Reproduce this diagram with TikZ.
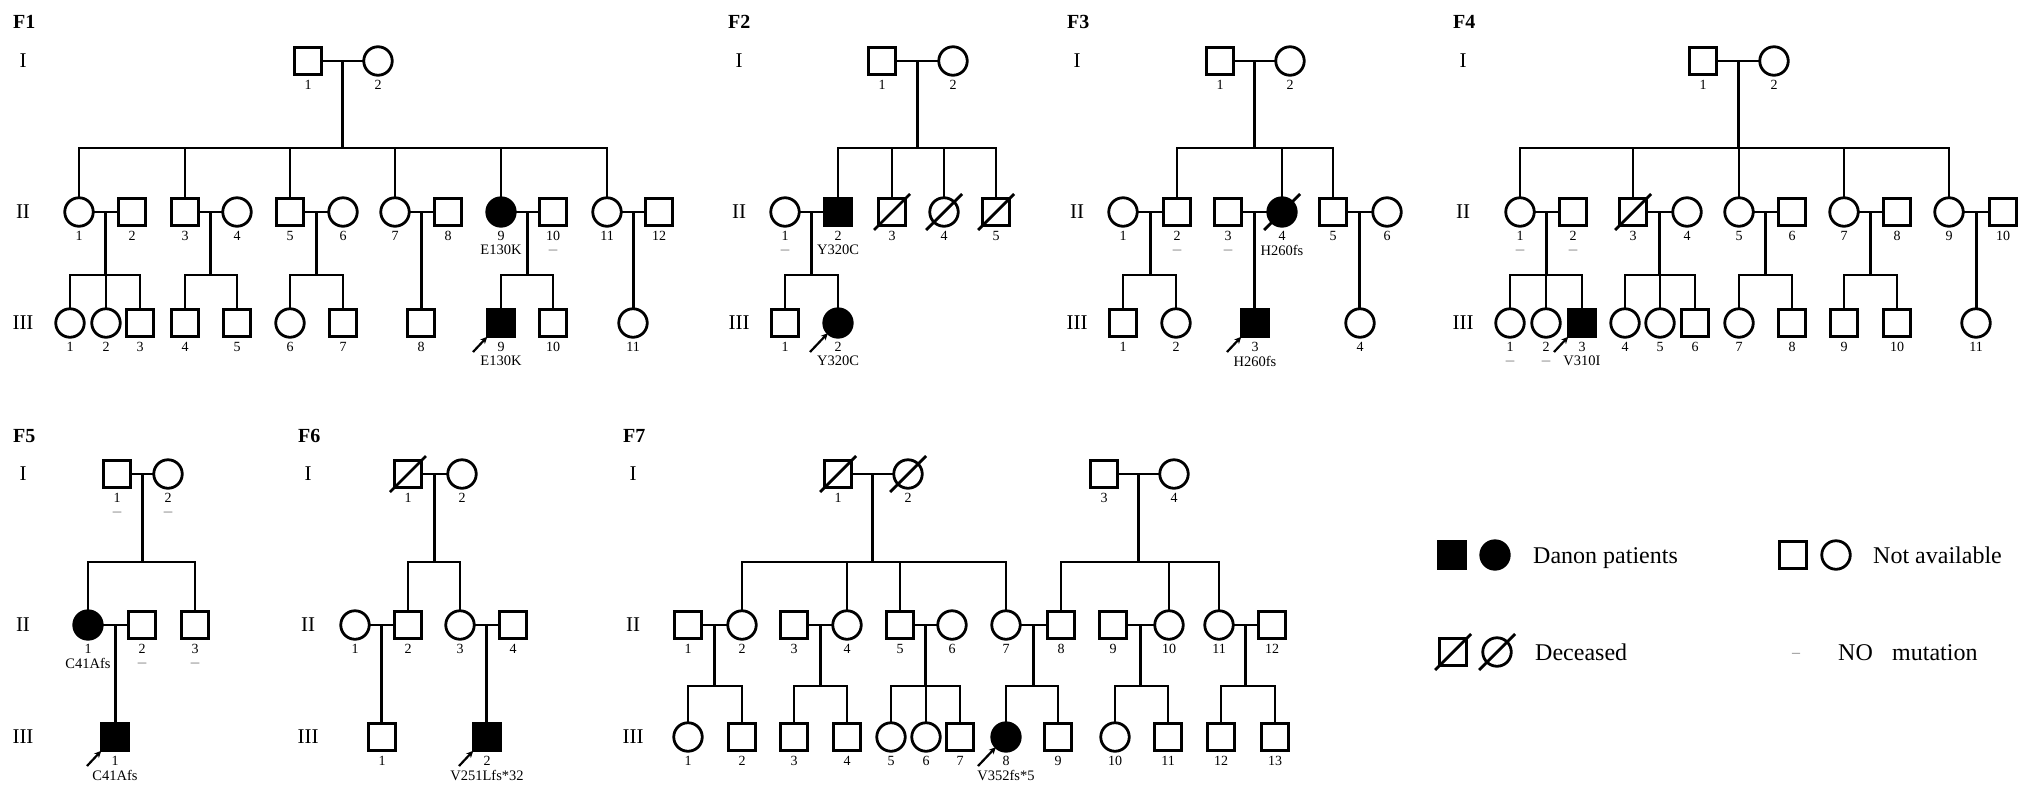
\documentclass[tikz,border=0pt]{standalone}
\usepackage{fontspec}
\setmainfont{Liberation Serif}
\usetikzlibrary{calc,arrows.meta}
\tikzset{
  pline/.style={line width=2.8pt, line join=miter},
  ind/.style={draw, line width=2.8pt, inner sep=0pt, outer sep=0pt},
  male/.style={ind, rectangle, minimum size=27.5pt},
  female/.style={ind, circle, minimum size=28.5pt},
  aff/.style={fill=black},
  num/.style={font=\fontsize{14}{14}\selectfont, inner sep=0pt},
  sublab/.style={font=\fontsize{14.5}{14.5}\selectfont, inner sep=0pt},
  dashlab/.style={font=\fontsize{17}{17}\selectfont, inner sep=0pt, text=black!50},
  flab/.style={font=\fontsize{20}{20}\selectfont\bfseries, inner sep=0pt, anchor=west},
  glab/.style={font=\fontsize{21}{21}\selectfont, inner sep=0pt},
  legtext/.style={font=\fontsize{24}{24}\selectfont, inner sep=0pt, anchor=base west},
  parrow/.style={line width=2.2pt, -{Stealth[length=7pt,width=6.5pt]}}
}
\newcommand\indiv[5]{\node[#2] (#1) at (#3,#4) {};\node[num] (#1n) at (#3,#4+24) {#5};}
\newcommand\marry[3]{\draw[pline] (#1) -- (#2); \coordinate (#3) at ($(#1.east)!0.5!(#2.west)$);}
\newcommand\sibs[4]{\coordinate (#1s) at (#1 |- 0,#2); \draw[pline] (#1) -- (#1s); \draw[pline] (#3.north) |- (#1s) -| (#4.north);}
\newcommand\childdrop[2]{\draw[pline] (#1 -| #2) -- (#2.north);}
\newcommand\single[2]{\draw[pline] (#1) -- (#1 |- #2.north);}
\newcommand\mutlab[2]{\node[sublab] (#1m) at ($(#1)+(0,38)$) {#2};}
\newcommand\nomut[1]{\node[dashlab] (#1d) at ($(#1)+(0,40)$) {–};}
\newcommand\deadline[1]{\coordinate (#1da) at ($(#1)+(-18,18)$); \coordinate (#1db) at ($(#1)+(18,-18)$); \draw[pline] (#1da) -- (#1db);}
\newcommand\proband[1]{\coordinate (#1p) at ($(#1)+(-28,29)$); \draw[parrow] (#1p) -- (#1.south west);}
\newcommand\famlab[4]{\node[flab] (#1) at (#2,#3) {#4};}
\newcommand\gens[5]{\node[glab] (#1i) at (#2,#3) {I}; \node[glab] (#1ii) at (#2,#4) {II}; \node[glab] (#1iii) at (#2,#5) {III};}
\begin{document}
\begin{tikzpicture}[x=1pt,y=-1pt]
\fill[white] (0,0) rectangle (2031,796);
\useasboundingbox (0,0) rectangle (2031,796);
% ---------- family labels ----------
\famlab{lF1}{13}{22}{F1} \gens{gF1}{23}{61}{212}{323}
\famlab{lF2}{728}{22}{F2} \gens{gF2}{739}{61}{212}{323}
\famlab{lF3}{1067}{22}{F3} \gens{gF3}{1077}{61}{212}{323}
\famlab{lF4}{1453}{22}{F4} \gens{gF4}{1463}{61}{212}{323}
\famlab{lF5}{13}{436}{F5} \gens{gF5}{23}{474}{625}{737}
\famlab{lF6}{298}{436}{F6} \gens{gF6}{308}{474}{625}{737}
\famlab{lF7}{623}{436}{F7} \gens{gF7}{633}{474}{625}{737}
% ---------- F1 ----------
\indiv{f1a1}{male}{308}{61}{1}
\indiv{f1a2}{female}{378}{61}{2}
\marry{f1a1}{f1a2}{f1m0}
\indiv{f1b1}{female}{79}{212}{1}
\indiv{f1b2}{male}{132}{212}{2}
\indiv{f1b3}{male}{185}{212}{3}
\indiv{f1b4}{female}{237}{212}{4}
\indiv{f1b5}{male}{290}{212}{5}
\indiv{f1b6}{female}{343}{212}{6}
\indiv{f1b7}{female}{395}{212}{7}
\indiv{f1b8}{male}{448}{212}{8}
\indiv{f1b9}{female,aff}{501}{212}{9}
\indiv{f1b10}{male}{553}{212}{10}
\indiv{f1b11}{female}{607}{212}{11}
\indiv{f1b12}{male}{659}{212}{12}
\sibs{f1m0}{148}{f1b1}{f1b11}
\childdrop{f1m0s}{f1b3} \childdrop{f1m0s}{f1b5} \childdrop{f1m0s}{f1b7} \childdrop{f1m0s}{f1b9}
\marry{f1b1}{f1b2}{f1m1} \marry{f1b3}{f1b4}{f1m2} \marry{f1b5}{f1b6}{f1m3}
\marry{f1b7}{f1b8}{f1m4} \marry{f1b9}{f1b10}{f1m5} \marry{f1b11}{f1b12}{f1m6}
\indiv{f1c1}{female}{70}{323}{1}
\indiv{f1c2}{female}{106}{323}{2}
\indiv{f1c3}{male}{140}{323}{3}
\sibs{f1m1}{275}{f1c1}{f1c3} \childdrop{f1m1s}{f1c2}
\indiv{f1c4}{male}{185}{323}{4}
\indiv{f1c5}{male}{237}{323}{5}
\sibs{f1m2}{275}{f1c4}{f1c5}
\indiv{f1c6}{female}{290}{323}{6}
\indiv{f1c7}{male}{343}{323}{7}
\sibs{f1m3}{275}{f1c6}{f1c7}
\indiv{f1c8}{male}{421}{323}{8}
\single{f1m4}{f1c8}
\indiv{f1c9}{male,aff}{501}{323}{9}
\indiv{f1c10}{male}{553}{323}{10}
\sibs{f1m5}{275}{f1c9}{f1c10}
\indiv{f1c11}{female}{633}{323}{11}
\single{f1m6}{f1c11}
\mutlab{f1b9}{E130K} \nomut{f1b10} \mutlab{f1c9}{E130K} \proband{f1c9}
% ---------- F2 ----------
\indiv{f2a1}{male}{882}{61}{1}
\indiv{f2a2}{female}{953}{61}{2}
\marry{f2a1}{f2a2}{f2m0}
\indiv{f2b1}{female}{785}{212}{1}
\indiv{f2b2}{male,aff}{838}{212}{2}
\indiv{f2b3}{male}{892}{212}{3}
\indiv{f2b4}{female}{944}{212}{4}
\indiv{f2b5}{male}{996}{212}{5}
\sibs{f2m0}{148}{f2b2}{f2b5} \childdrop{f2m0s}{f2b3} \childdrop{f2m0s}{f2b4}
\deadline{f2b3} \deadline{f2b4} \deadline{f2b5}
\marry{f2b1}{f2b2}{f2m1}
\indiv{f2c1}{male}{785}{323}{1}
\indiv{f2c2}{female,aff}{838}{323}{2}
\sibs{f2m1}{275}{f2c1}{f2c2}
\nomut{f2b1} \mutlab{f2b2}{Y320C} \mutlab{f2c2}{Y320C} \proband{f2c2}
% ---------- F3 ----------
\indiv{f3a1}{male}{1220}{61}{1}
\indiv{f3a2}{female}{1290}{61}{2}
\marry{f3a1}{f3a2}{f3m0}
\indiv{f3b1}{female}{1123}{212}{1}
\indiv{f3b2}{male}{1177}{212}{2}
\indiv{f3b3}{male}{1228}{212}{3}
\indiv{f3b4}{female,aff}{1282}{212}{4}
\indiv{f3b5}{male}{1333}{212}{5}
\indiv{f3b6}{female}{1387}{212}{6}
\sibs{f3m0}{148}{f3b2}{f3b5} \childdrop{f3m0s}{f3b4}
\deadline{f3b4}
\marry{f3b1}{f3b2}{f3m1} \marry{f3b3}{f3b4}{f3m2} \marry{f3b5}{f3b6}{f3m3}
\indiv{f3c1}{male}{1123}{323}{1}
\indiv{f3c2}{female}{1176}{323}{2}
\sibs{f3m1}{275}{f3c1}{f3c2}
\indiv{f3c3}{male,aff}{1255}{323}{3}
\single{f3m2}{f3c3}
\indiv{f3c4}{female}{1360}{323}{4}
\single{f3m3}{f3c4}
\nomut{f3b2} \nomut{f3b3} \mutlab{f3b4}{H260fs} \mutlab{f3c3}{H260fs} \proband{f3c3}
% ---------- F4 ----------
\indiv{f4a1}{male}{1703}{61}{1}
\indiv{f4a2}{female}{1774}{61}{2}
\marry{f4a1}{f4a2}{f4m0}
\indiv{f4b1}{female}{1520}{212}{1}
\indiv{f4b2}{male}{1573}{212}{2}
\indiv{f4b3}{male}{1633}{212}{3}
\indiv{f4b4}{female}{1687}{212}{4}
\indiv{f4b5}{female}{1739}{212}{5}
\indiv{f4b6}{male}{1792}{212}{6}
\indiv{f4b7}{female}{1844}{212}{7}
\indiv{f4b8}{male}{1897}{212}{8}
\indiv{f4b9}{female}{1949}{212}{9}
\indiv{f4b10}{male}{2003}{212}{10}
\sibs{f4m0}{148}{f4b1}{f4b9}
\childdrop{f4m0s}{f4b3} \childdrop{f4m0s}{f4b5} \childdrop{f4m0s}{f4b7}
\deadline{f4b3}
\marry{f4b1}{f4b2}{f4m1} \marry{f4b3}{f4b4}{f4m2} \marry{f4b5}{f4b6}{f4m3}
\marry{f4b7}{f4b8}{f4m4} \marry{f4b9}{f4b10}{f4m5}
\indiv{f4c1}{female}{1510}{323}{1}
\indiv{f4c2}{female}{1546}{323}{2}
\indiv{f4c3}{male,aff}{1582}{323}{3}
\sibs{f4m1}{275}{f4c1}{f4c3} \childdrop{f4m1s}{f4c2}
\indiv{f4c4}{female}{1625}{323}{4}
\indiv{f4c5}{female}{1660}{323}{5}
\indiv{f4c6}{male}{1695}{323}{6}
\sibs{f4m2}{275}{f4c4}{f4c6} \childdrop{f4m2s}{f4c5}
\indiv{f4c7}{female}{1739}{323}{7}
\indiv{f4c8}{male}{1792}{323}{8}
\sibs{f4m3}{275}{f4c7}{f4c8}
\indiv{f4c9}{male}{1844}{323}{9}
\indiv{f4c10}{male}{1897}{323}{10}
\sibs{f4m4}{275}{f4c9}{f4c10}
\indiv{f4c11}{female}{1976}{323}{11}
\single{f4m5}{f4c11}
\nomut{f4b1} \nomut{f4b2} \nomut{f4c1} \nomut{f4c2} \mutlab{f4c3}{V310I} \proband{f4c3}
% ---------- F5 ----------
\indiv{f5a1}{male}{117}{474}{1}
\indiv{f5a2}{female}{168}{474}{2}
\marry{f5a1}{f5a2}{f5m0}
\indiv{f5b1}{female,aff}{88}{625}{1}
\indiv{f5b2}{male}{142}{625}{2}
\indiv{f5b3}{male}{195}{625}{3}
\sibs{f5m0}{562}{f5b1}{f5b3}
\marry{f5b1}{f5b2}{f5m1}
\indiv{f5c1}{male,aff}{115}{737}{1}
\single{f5m1}{f5c1}
\nomut{f5a1} \nomut{f5a2} \mutlab{f5b1}{C41Afs} \nomut{f5b2} \nomut{f5b3}
\mutlab{f5c1}{C41Afs} \proband{f5c1}
% ---------- F6 ----------
\indiv{f6a1}{male}{408}{474}{1}
\indiv{f6a2}{female}{462}{474}{2}
\marry{f6a1}{f6a2}{f6m0}
\deadline{f6a1}
\indiv{f6b1}{female}{355}{625}{1}
\indiv{f6b2}{male}{408}{625}{2}
\indiv{f6b3}{female}{460}{625}{3}
\indiv{f6b4}{male}{513}{625}{4}
\sibs{f6m0}{562}{f6b2}{f6b3}
\marry{f6b1}{f6b2}{f6m1} \marry{f6b3}{f6b4}{f6m2}
\indiv{f6c1}{male}{382}{737}{1}
\single{f6m1}{f6c1}
\indiv{f6c2}{male,aff}{487}{737}{2}
\single{f6m2}{f6c2}
\mutlab{f6c2}{V251Lfs*32} \proband{f6c2}
% ---------- F7 ----------
\indiv{f7a1}{male}{838}{474}{1}
\indiv{f7a2}{female}{908}{474}{2}
\marry{f7a1}{f7a2}{f7m0}
\deadline{f7a1} \deadline{f7a2}
\indiv{f7a3}{male}{1104}{474}{3}
\indiv{f7a4}{female}{1174}{474}{4}
\marry{f7a3}{f7a4}{f7mx}
\indiv{f7b1}{male}{688}{625}{1}
\indiv{f7b2}{female}{742}{625}{2}
\indiv{f7b3}{male}{794}{625}{3}
\indiv{f7b4}{female}{847}{625}{4}
\indiv{f7b5}{male}{900}{625}{5}
\indiv{f7b6}{female}{952}{625}{6}
\indiv{f7b7}{female}{1006}{625}{7}
\indiv{f7b8}{male}{1061}{625}{8}
\indiv{f7b9}{male}{1113}{625}{9}
\indiv{f7b10}{female}{1169}{625}{10}
\indiv{f7b11}{female}{1219}{625}{11}
\indiv{f7b12}{male}{1272}{625}{12}
\sibs{f7m0}{562}{f7b2}{f7b7} \childdrop{f7m0s}{f7b4} \childdrop{f7m0s}{f7b5}
\sibs{f7mx}{562}{f7b8}{f7b11} \childdrop{f7mxs}{f7b10}
\marry{f7b1}{f7b2}{f7m1} \marry{f7b3}{f7b4}{f7m2} \marry{f7b5}{f7b6}{f7m3}
\marry{f7b7}{f7b8}{f7m4} \marry{f7b9}{f7b10}{f7m5} \marry{f7b11}{f7b12}{f7m6}
\indiv{f7c1}{female}{688}{737}{1}
\indiv{f7c2}{male}{742}{737}{2}
\sibs{f7m1}{686}{f7c1}{f7c2}
\indiv{f7c3}{male}{794}{737}{3}
\indiv{f7c4}{male}{847}{737}{4}
\sibs{f7m2}{686}{f7c3}{f7c4}
\indiv{f7c5}{female}{891}{737}{5}
\indiv{f7c6}{female}{926}{737}{6}
\indiv{f7c7}{male}{960}{737}{7}
\sibs{f7m3}{686}{f7c5}{f7c7} \childdrop{f7m3s}{f7c6}
\indiv{f7c8}{female,aff}{1006}{737}{8}
\indiv{f7c9}{male}{1058}{737}{9}
\sibs{f7m4}{686}{f7c8}{f7c9}
\indiv{f7c10}{female}{1115}{737}{10}
\indiv{f7c11}{male}{1168}{737}{11}
\sibs{f7m5}{686}{f7c10}{f7c11}
\indiv{f7c12}{male}{1221}{737}{12}
\indiv{f7c13}{male}{1275}{737}{13}
\sibs{f7m6}{686}{f7c12}{f7c13}
\mutlab{f7c8}{V352fs*5} \proband{f7c8}
% ---------- legend ----------
\node[male,aff] (lg1) at (1452,555) {};
\node[female,aff] (lg2) at (1495,555) {};
\node[legtext] (lg3) at (1533,563) {Danon patients};
\node[male] (lg4) at (1793,555) {};
\node[female] (lg5) at (1836,555) {};
\node[legtext] (lg6) at (1873,563) {Not available};
\node[male] (lg7) at (1453,652) {}; \deadline{lg7}
\node[female] (lg8) at (1497,652) {}; \deadline{lg8}
\node[legtext] (lg9) at (1535,660) {Deceased};
\node[dashlab,font=\fontsize{16}{16}\selectfont] (lg10) at (1796,655) {–};
\node[legtext] (lg11) at (1838,660) {NO};
\node[legtext] (lg12) at (1892,660) {mutation};
\end{tikzpicture}
\end{document}
